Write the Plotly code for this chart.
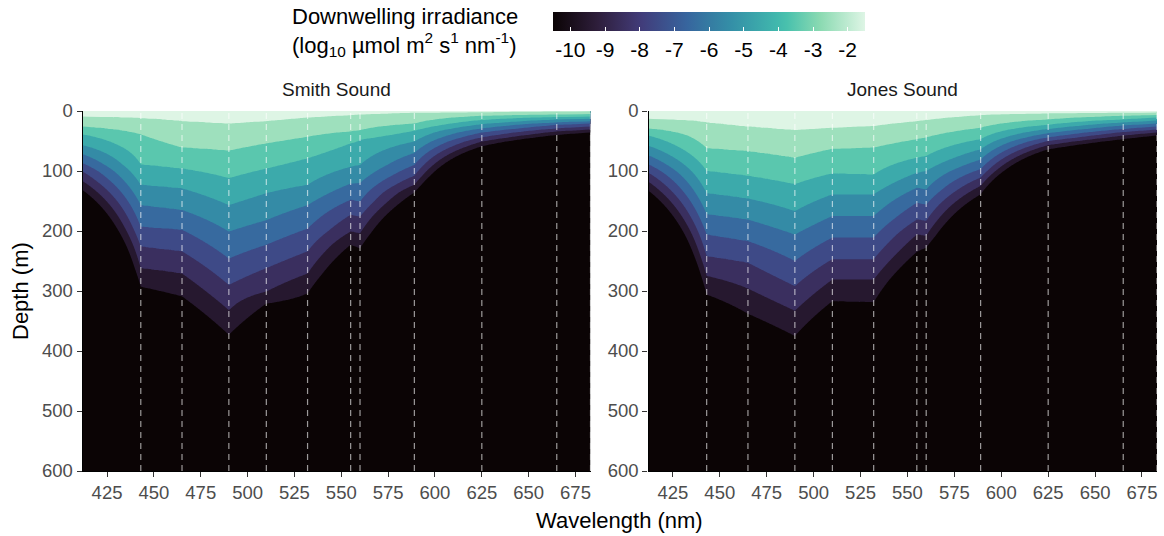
import numpy as np
import plotly.graph_objects as go

# Radiometer band centres (nm) shared by both profiles
wavelengths = [412, 443, 465, 490, 510, 532, 555, 560, 589, 625, 665, 683]

# log10 downwelling irradiance levels that bound the filled bands
irradiance_levels = [-2, -3, -4, -5, -6, -7, -8, -9, -10]

# Smith Sound: depth (m) at which each level is reached, one row per level
smith_surface = [-1.47, -1.56, -1.61, -1.53, -1.54, -1.66, -1.74, -1.77, -1.83, -1.67, -1.8, -1.89]
smith_depths = [
    [9, 12, 17, 21, 17, 11, 7, 6, 3, 2, 1, 0.5],
    [26, 39, 61, 66, 54, 43, 34, 32, 21, 8, 6, 5],
    [39, 89, 96, 112, 96, 79, 54, 48, 33, 15, 10, 9],
    [57, 123, 129, 157, 137, 123, 93, 90, 51, 22, 14, 13],
    [72, 157, 165, 201, 182, 157, 121, 120, 70, 29, 19, 17],
    [87, 193, 198, 246, 223, 196, 148, 151, 90, 36, 23, 21],
    [101, 226, 234, 290, 262, 234, 173, 176, 108, 44, 29, 26],
    [117, 262, 271, 332, 301, 271, 201, 204, 123, 51, 34, 31],
    [132, 293, 309, 373, 321, 304, 223, 229, 136, 59, 40, 36],
]
smith_bottom = [-41, -19, -18, -15.3, -18, -18, -24.8, -23.7, -38, -82, -117, -129]

# Jones Sound
jones_surface = [-1.19, -1.56, -1.37, -1.3, -1.2, -1.31, -1.43, -1.48, -1.67, -1.6, -1.4, -1.4]
jones_depths = [
    [13, 19, 26, 32, 28, 25, 17, 15, 7, 4, 3, 2.5],
    [29, 62, 67, 78, 63, 61, 47, 44, 28, 14, 8, 6.5],
    [41, 100, 108, 122, 104, 106, 78, 75, 47, 23, 14, 11],
    [58, 137, 146, 167, 139, 139, 103, 100, 64, 30, 19, 16],
    [74, 172, 181, 206, 175, 175, 128, 131, 81, 37, 24, 21],
    [89, 206, 217, 250, 211, 211, 153, 156, 97, 44, 30, 26],
    [103, 242, 253, 292, 247, 247, 181, 183, 111, 50, 35, 31],
    [118, 275, 296, 333, 281, 281, 206, 208, 125, 57, 41, 36],
    [133, 306, 338, 375, 317, 319, 235, 228, 139, 64, 47, 41],
]
jones_bottom = [-41.7, -18.8, -16.7, -15.4, -18, -17.8, -23.6, -25.5, -41.8, -89, -106, -122]

sites = ["Smith Sound", "Jones Sound"]
max_depth = 600

# mako colour map
mako = [
    [0.0, "#0B0405"], [0.143, "#2E1E3B"], [0.25, "#3E356B"], [0.286, "#413D7B"],
    [0.429, "#37659E"], [0.5, "#357BA2"], [0.571, "#348FA7"], [0.714, "#40B7AD"],
    [0.75, "#49C1AD"], [0.857, "#8BDAB2"], [1.0, "#DEF5E5"],
]

depth_grid = np.arange(0, max_depth + 1, 1.0)


def profile_grid(surface, depths, bottom):
    cols = []
    for j in range(len(wavelengths)):
        zd = [0.0] + [row[j] for row in depths] + [max_depth]
        zv = [surface[j]] + irradiance_levels + [bottom[j]]
        cols.append(np.interp(depth_grid, zd, zv))
    return np.column_stack(cols)


grids = [
    profile_grid(smith_surface, smith_depths, smith_bottom),
    profile_grid(jones_surface, jones_depths, jones_bottom),
]

W, H = 1164, 536
x_domains = [[82.7 / W, 590.5 / W], [648.5 / W, 1157.0 / W]]
y_domain = [1 - 471 / H, 1 - 111 / H]
x_range = [412, 683]

fig = go.Figure()
for i, z in enumerate(grids):
    ax = "" if i == 0 else str(i + 1)
    fig.add_trace(go.Contour(
        x=wavelengths, y=depth_grid, z=z,
        colorscale=mako,
        contours=dict(start=-10, end=-2, size=1, coloring="fill", showlines=False),
        line=dict(width=0, smoothing=0),
        showscale=False, hoverinfo="skip",
        xaxis="x" + ax, yaxis="y" + ax,
    ))

# continuous colour bar
fig.add_trace(go.Scatter(
    x=[None], y=[None], mode="markers", showlegend=False, hoverinfo="skip",
    marker=dict(
        color=[-6], colorscale=mako, cmin=-10.5, cmax=-1.5, showscale=True,
        colorbar=dict(
            orientation="h", thickness=19, thicknessmode="pixels",
            len=312, lenmode="pixels",
            x=709 / W, xanchor="center", y=1 - 12 / H, yanchor="top",
            outlinewidth=0, xpad=0, ypad=0,
            tickvals=list(range(-10, -1)), ticktext=[str(v) for v in range(-10, -1)],
            ticks="inside", tickcolor="white", ticklen=4, tickwidth=1,
            tickfont=dict(size=21, color="black", family="Liberation Sans"),
        ),
    ),
))

# dashed guides at each band centre; the one on the left axis is hidden by the axis line
shapes = []
for i in range(2):
    ax = "" if i == 0 else str(i + 1)
    for wl in wavelengths:
        if wl <= x_range[0]:
            continue
        shapes.append(dict(
            type="line", xref="x" + ax, yref="y" + ax + " domain",
            x0=wl, x1=wl, y0=0, y1=1,
            line=dict(color="rgba(255,255,255,0.6)", width=1.2, dash="6px,5px"),
            layer="above",
        ))

axis_font = dict(size=18.5, color="#4D4D4D", family="Liberation Sans")
layout = dict(
    width=W, height=H, margin=dict(l=0, r=0, t=0, b=0, autoexpand=False),
    paper_bgcolor="white", plot_bgcolor="white",
    font=dict(family="Liberation Sans", color="black"),
    shapes=shapes,
)
for i in range(2):
    ax = "" if i == 0 else str(i + 1)
    layout["xaxis" + ax] = dict(
        domain=x_domains[i], range=x_range, anchor="y" + ax,
        tickvals=list(range(425, 676, 25)), ticks="outside", ticklen=5,
        tickcolor="#333333", tickwidth=1.1, showline=True, linecolor="black",
        linewidth=1.1, showgrid=False, zeroline=False, tickfont=axis_font,
    )
    layout["yaxis" + ax] = dict(
        domain=y_domain, range=[max_depth, 0], anchor="x" + ax,
        tickvals=list(range(0, 601, 100)), ticks="outside", ticklen=5,
        tickcolor="#333333", tickwidth=1.1, showline=True, linecolor="black",
        linewidth=1.4, showgrid=False, zeroline=False, tickfont=axis_font,
    )

annotations = []
for i, name in enumerate(sites):
    annotations.append(dict(
        text=name, xref="paper", yref="paper",
        x=sum(x_domains[i]) / 2, y=1 - 90 / H, xanchor="center", yanchor="middle",
        showarrow=False, font=dict(size=19, color="#1A1A1A"),
    ))
annotations.append(dict(
    text="Wavelength (nm)", xref="paper", yref="paper",
    x=(x_domains[0][0] + x_domains[1][1]) / 2, y=1 - 520 / H,
    xanchor="center", yanchor="middle", showarrow=False, font=dict(size=22),
))
annotations.append(dict(
    text="Depth (m)", xref="paper", yref="paper", textangle=-90,
    x=20 / W, y=sum(y_domain) / 2, xanchor="center", yanchor="middle",
    showarrow=False, font=dict(size=22),
))
annotations.append(dict(
    text="Downwelling irradiance<br>(log<sub>10</sub> µmol m<sup>2</sup> s<sup>1</sup> nm<sup>-1</sup>)",
    xref="paper", yref="paper", x=290 / W, y=1 - 32 / H,
    xanchor="left", yanchor="middle", align="left", showarrow=False,
    font=dict(size=22),
))
layout["annotations"] = annotations

fig.update_layout(**layout)
fig.write_html("out.html")
